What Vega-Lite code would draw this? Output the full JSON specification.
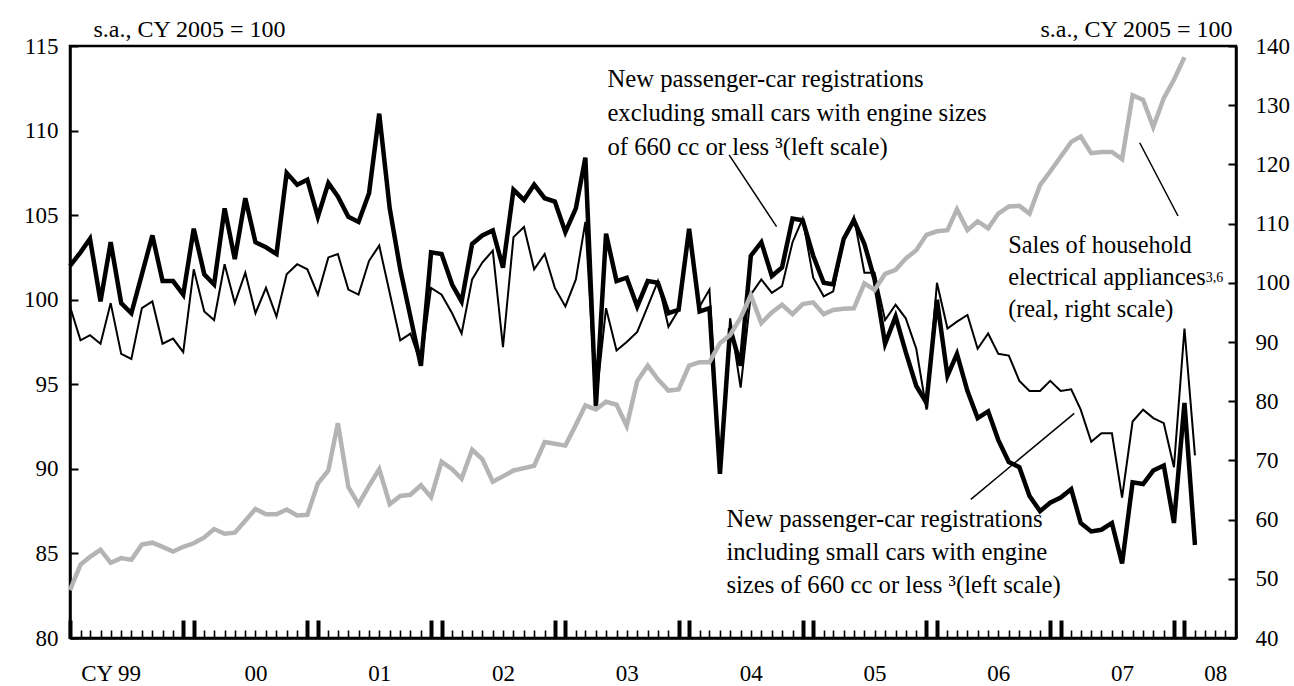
{
  "$schema": "https://vega.github.io/schema/vega-lite/v6.json",
  "width": 1166,
  "height": 592,
  "autosize": {"type": "none"},
  "padding": {"left": 70, "top": 46, "right": 58, "bottom": 48},
  "background": "white",
  "config": {
    "view": {"stroke": "black", "strokeWidth": 2.5},
    "font": "Liberation Serif",
    "axis": {"labelFont": "Liberation Serif", "titleFont": "Liberation Serif", "labelColor": "black", "titleColor": "black", "domainColor": "black", "tickColor": "black", "grid": false},
    "text": {"font": "Liberation Serif", "fontWeight": "normal", "fill": "black"}
  },
  "data": {
    "values": [
      {"date": "1999-01", "incl": 102.0, "excl": 99.6, "appl": 48.1},
      {"date": "1999-02", "incl": 102.8, "excl": 97.6, "appl": 52.4},
      {"date": "1999-03", "incl": 103.6, "excl": 97.9, "appl": 53.7},
      {"date": "1999-04", "incl": 99.9, "excl": 97.4, "appl": 54.9},
      {"date": "1999-05", "incl": 103.4, "excl": 99.8, "appl": 52.7},
      {"date": "1999-06", "incl": 99.8, "excl": 96.8, "appl": 53.5},
      {"date": "1999-07", "incl": 99.2, "excl": 96.5, "appl": 53.2},
      {"date": "1999-08", "incl": 101.5, "excl": 99.5, "appl": 55.8},
      {"date": "1999-09", "incl": 103.8, "excl": 99.9, "appl": 56.1},
      {"date": "1999-10", "incl": 101.1, "excl": 97.4, "appl": 55.4},
      {"date": "1999-11", "incl": 101.1, "excl": 97.7, "appl": 54.6},
      {"date": "1999-12", "incl": 100.3, "excl": 96.9, "appl": 55.4},
      {"date": "2000-01", "incl": 104.2, "excl": 101.8, "appl": 56.0},
      {"date": "2000-02", "incl": 101.5, "excl": 99.3, "appl": 57.0},
      {"date": "2000-03", "incl": 100.9, "excl": 98.8, "appl": 58.4},
      {"date": "2000-04", "incl": 105.4, "excl": 102.1, "appl": 57.6},
      {"date": "2000-05", "incl": 102.4, "excl": 99.8, "appl": 57.8},
      {"date": "2000-06", "incl": 106.0, "excl": 101.6, "appl": 59.8},
      {"date": "2000-07", "incl": 103.4, "excl": 99.2, "appl": 61.8},
      {"date": "2000-08", "incl": 103.1, "excl": 100.7, "appl": 60.9},
      {"date": "2000-09", "incl": 102.7, "excl": 99.0, "appl": 60.9},
      {"date": "2000-10", "incl": 107.5, "excl": 101.5, "appl": 61.7},
      {"date": "2000-11", "incl": 106.8, "excl": 102.1, "appl": 60.7},
      {"date": "2000-12", "incl": 107.1, "excl": 101.8, "appl": 60.8},
      {"date": "2001-01", "incl": 104.9, "excl": 100.3, "appl": 66.1},
      {"date": "2001-02", "incl": 106.9, "excl": 102.5, "appl": 68.3},
      {"date": "2001-03", "incl": 106.1, "excl": 102.7, "appl": 76.3},
      {"date": "2001-04", "incl": 104.9, "excl": 100.6, "appl": 65.5},
      {"date": "2001-05", "incl": 104.6, "excl": 100.3, "appl": 62.6},
      {"date": "2001-06", "incl": 106.3, "excl": 102.3, "appl": 65.7},
      {"date": "2001-07", "incl": 111.0, "excl": 103.2, "appl": 68.5},
      {"date": "2001-08", "incl": 105.4, "excl": 100.4, "appl": 62.6},
      {"date": "2001-09", "incl": 101.8, "excl": 97.6, "appl": 64.0},
      {"date": "2001-10", "incl": 99.0, "excl": 98.0, "appl": 64.2},
      {"date": "2001-11", "incl": 96.1, "excl": 96.2, "appl": 65.8},
      {"date": "2001-12", "incl": 102.8, "excl": 100.7, "appl": 63.8},
      {"date": "2002-01", "incl": 102.7, "excl": 100.3, "appl": 69.8},
      {"date": "2002-02", "incl": 100.9, "excl": 99.2, "appl": 68.5},
      {"date": "2002-03", "incl": 99.9, "excl": 98.0, "appl": 66.9},
      {"date": "2002-04", "incl": 103.3, "excl": 101.2, "appl": 71.8},
      {"date": "2002-05", "incl": 103.8, "excl": 102.2, "appl": 70.2},
      {"date": "2002-06", "incl": 104.1, "excl": 102.9, "appl": 66.4},
      {"date": "2002-07", "incl": 101.9, "excl": 97.2, "appl": 67.3},
      {"date": "2002-08", "incl": 106.5, "excl": 103.7, "appl": 68.3},
      {"date": "2002-09", "incl": 105.9, "excl": 104.3, "appl": 68.7},
      {"date": "2002-10", "incl": 106.8, "excl": 101.8, "appl": 69.1},
      {"date": "2002-11", "incl": 106.0, "excl": 102.7, "appl": 73.1},
      {"date": "2002-12", "incl": 105.8, "excl": 100.7, "appl": 72.8},
      {"date": "2003-01", "incl": 104.0, "excl": 99.6, "appl": 72.5},
      {"date": "2003-02", "incl": 105.4, "excl": 101.2, "appl": 76.0},
      {"date": "2003-03", "incl": 108.4, "excl": 104.6, "appl": 79.3},
      {"date": "2003-04", "incl": 93.7, "excl": 93.9, "appl": 78.6},
      {"date": "2003-05", "incl": 103.9, "excl": 99.5, "appl": 79.9},
      {"date": "2003-06", "incl": 101.1, "excl": 97.0, "appl": 79.4},
      {"date": "2003-07", "incl": 101.3, "excl": 97.5, "appl": 75.8},
      {"date": "2003-08", "incl": 99.6, "excl": 98.1, "appl": 83.4},
      {"date": "2003-09", "incl": 101.1, "excl": 99.6, "appl": 86.0},
      {"date": "2003-10", "incl": 101.0, "excl": 101.1, "appl": 83.7},
      {"date": "2003-11", "incl": 99.2, "excl": 98.4, "appl": 81.8},
      {"date": "2003-12", "incl": 99.4, "excl": 99.4, "appl": 82.0},
      {"date": "2004-01", "incl": 104.2, "excl": 103.9, "appl": 86.0},
      {"date": "2004-02", "incl": 99.3, "excl": 99.6, "appl": 86.6},
      {"date": "2004-03", "incl": 99.5, "excl": 100.6, "appl": 86.6},
      {"date": "2004-04", "incl": 89.7, "excl": 90.0, "appl": 89.8},
      {"date": "2004-05", "incl": 98.3, "excl": 98.9, "appl": 91.2},
      {"date": "2004-06", "incl": 96.1, "excl": 94.8, "appl": 94.1},
      {"date": "2004-07", "incl": 102.6, "excl": 100.3, "appl": 97.9},
      {"date": "2004-08", "incl": 103.4, "excl": 101.2, "appl": 93.2},
      {"date": "2004-09", "incl": 101.4, "excl": 100.4, "appl": 95.0},
      {"date": "2004-10", "incl": 101.9, "excl": 100.8, "appl": 96.3},
      {"date": "2004-11", "incl": 104.8, "excl": 103.4, "appl": 94.7},
      {"date": "2004-12", "incl": 104.7, "excl": 104.8, "appl": 96.4},
      {"date": "2005-01", "incl": 102.6, "excl": 101.3, "appl": 96.7},
      {"date": "2005-02", "incl": 101.0, "excl": 100.2, "appl": 94.7},
      {"date": "2005-03", "incl": 100.9, "excl": 100.5, "appl": 95.4},
      {"date": "2005-04", "incl": 103.6, "excl": 103.5, "appl": 95.6},
      {"date": "2005-05", "incl": 104.7, "excl": 104.9, "appl": 95.7},
      {"date": "2005-06", "incl": 103.3, "excl": 101.6, "appl": 99.9},
      {"date": "2005-07", "incl": 101.2, "excl": 101.6, "appl": 98.8},
      {"date": "2005-08", "incl": 97.4, "excl": 98.8, "appl": 101.5},
      {"date": "2005-09", "incl": 99.0, "excl": 99.7, "appl": 102.2},
      {"date": "2005-10", "incl": 96.9, "excl": 98.9, "appl": 104.1},
      {"date": "2005-11", "incl": 94.9, "excl": 97.1, "appl": 105.5},
      {"date": "2005-12", "incl": 93.9, "excl": 93.5, "appl": 108.1},
      {"date": "2006-01", "incl": 100.0, "excl": 101.0, "appl": 108.7},
      {"date": "2006-02", "incl": 95.5, "excl": 98.3, "appl": 108.9},
      {"date": "2006-03", "incl": 96.8, "excl": 98.7, "appl": 112.4},
      {"date": "2006-04", "incl": 94.6, "excl": 99.1, "appl": 108.9},
      {"date": "2006-05", "incl": 93.0, "excl": 97.1, "appl": 110.4},
      {"date": "2006-06", "incl": 93.4, "excl": 98.0, "appl": 109.2},
      {"date": "2006-07", "incl": 91.7, "excl": 96.8, "appl": 111.7},
      {"date": "2006-08", "incl": 90.4, "excl": 96.7, "appl": 112.9},
      {"date": "2006-09", "incl": 90.1, "excl": 95.2, "appl": 113.0},
      {"date": "2006-10", "incl": 88.4, "excl": 94.6, "appl": 111.7},
      {"date": "2006-11", "incl": 87.5, "excl": 94.6, "appl": 116.5},
      {"date": "2006-12", "incl": 88.0, "excl": 95.2, "appl": 118.8},
      {"date": "2007-01", "incl": 88.3, "excl": 94.6, "appl": 121.3},
      {"date": "2007-02", "incl": 88.8, "excl": 94.7, "appl": 123.8},
      {"date": "2007-03", "incl": 86.8, "excl": 93.5, "appl": 124.7},
      {"date": "2007-04", "incl": 86.3, "excl": 91.6, "appl": 121.9},
      {"date": "2007-05", "incl": 86.4, "excl": 92.1, "appl": 122.1},
      {"date": "2007-06", "incl": 86.8, "excl": 92.1, "appl": 122.1},
      {"date": "2007-07", "incl": 84.4, "excl": 88.3, "appl": 120.9},
      {"date": "2007-08", "incl": 89.2, "excl": 92.8, "appl": 131.7},
      {"date": "2007-09", "incl": 89.1, "excl": 93.5, "appl": 130.9},
      {"date": "2007-10", "incl": 89.9, "excl": 93.0, "appl": 126.3},
      {"date": "2007-11", "incl": 90.2, "excl": 92.7, "appl": 131.2},
      {"date": "2007-12", "incl": 86.8, "excl": 90.1, "appl": 134.3},
      {"date": "2008-01", "incl": 93.9, "excl": 98.3, "appl": 138.1},
      {"date": "2008-02", "incl": 85.5, "excl": 90.8, "appl": null}
    ],
    "format": {"parse": {"date": "date:'%Y-%m'"}}
  },
  "resolve": {"scale": {"y": "independent"}},
  "layer": [
    {
      "layer": [
        {
          "mark": {"type": "line", "color": "black", "strokeWidth": 2, "strokeJoin": "miter"},
          "encoding": {
            "x": {
              "field": "date", "type": "temporal",
              "scale": {"domain": [{"year": 1999, "month": 1, "date": 1}, {"year": 2008, "month": 6, "date": 1}], "nice": false},
              "axis": {
                "orient": "bottom", "title": null,
                "tickCount": {"interval": "month", "step": 1},
                "domainWidth": 2.5,
                "tickSize": {"condition": {"test": "month(datum.value) == 11 || month(datum.value) == 0", "value": -18}, "value": -8},
                "tickWidth": {"condition": {"test": "month(datum.value) == 11 || month(datum.value) == 0", "value": 4}, "value": 1.6},
                "labelExpr": "(year(datum.value) == 1999 && month(datum.value) == 4) ? 'CY 99' : ((year(datum.value) == 2008 && month(datum.value) == 3) ? '08' : ((year(datum.value) > 1999 && month(datum.value) == 6) ? timeFormat(datum.value, '%y') : ''))",
                "labelFontSize": 23, "labelPadding": 32, "labelOverlap": false, "labelFlush": false, "labelBound": false,
                "labelBaseline": "top"
              }
            },
            "y": {
              "field": "excl", "type": "quantitative",
              "scale": {"domain": [80, 115], "nice": false, "zero": false},
              "axis": {
                "orient": "left", "values": [80, 85, 90, 95, 100, 105, 110, 115],
                "domainWidth": 2.5, "tickSize": -8, "tickWidth": 2,
                "labelFontSize": 23, "labelPadding": 20,
                "title": "s.a., CY 2005 = 100", "titleAngle": 0, "titleX": 23, "titleY": -10,
                "titleAlign": "left", "titleBaseline": "alphabetic", "titleFontSize": 24, "titleFontWeight": "normal"
              }
            }
          }
        },
        {
          "mark": {"type": "line", "color": "black", "strokeWidth": 4.5, "strokeJoin": "miter"},
          "encoding": {
            "x": {"field": "date", "type": "temporal"},
            "y": {"field": "incl", "type": "quantitative", "scale": {"domain": [80, 115], "nice": false, "zero": false}}
          }
        },
        {
          "data": {"values": [{}]},
          "mark": {"type": "text", "align": "left", "baseline": "alphabetic", "fontSize": 24.7, "lineHeight": 34, "fill": "black", "fontWeight": "normal",
            "text": ["New passenger-car registrations", "excluding small cars with engine sizes", "of 660 cc or less \u00b3(left scale)"]},
          "encoding": {
            "x": {"datum": {"year": 2003, "month": 5, "date": 5}, "type": "temporal"},
            "y": {"datum": 112.58, "type": "quantitative", "scale": {"domain": [80, 115], "nice": false, "zero": false}}
          }
        },
        {
          "data": {"values": [{}]},
          "mark": {"type": "text", "align": "left", "baseline": "alphabetic", "fontSize": 24.7, "lineHeight": 33, "fill": "black", "fontWeight": "normal",
            "text": ["New passenger-car registrations", "including small cars with engine", "sizes of 660 cc or less \u00b3(left scale)"]},
          "encoding": {
            "x": {"datum": {"year": 2004, "month": 4, "date": 20}, "type": "temporal"},
            "y": {"datum": 86.56, "type": "quantitative", "scale": {"domain": [80, 115], "nice": false, "zero": false}}
          }
        },
        {
          "data": {"values": [{}]},
          "mark": {"type": "text", "align": "left", "baseline": "alphabetic", "fontSize": 24.3, "lineHeight": 32, "fill": "black", "fontWeight": "normal",
            "text": ["Sales of household", "electrical appliances", " (real, right scale)"]},
          "encoding": {
            "x": {"datum": {"year": 2006, "month": 7, "date": 30}, "type": "temporal"},
            "y": {"datum": 102.76, "type": "quantitative", "scale": {"domain": [80, 115], "nice": false, "zero": false}}
          }
        },
        {
          "data": {"values": [{}]},
          "mark": {"type": "text", "align": "left", "baseline": "alphabetic", "fontSize": 14, "fill": "black", "fontWeight": "normal", "text": "3,6"},
          "encoding": {
            "x": {"datum": {"year": 2008, "month": 3, "date": 4}, "type": "temporal"},
            "y": {"datum": 101.05, "type": "quantitative", "scale": {"domain": [80, 115], "nice": false, "zero": false}}
          }
        },
        {
          "data": {"values": [{}]},
          "mark": {"type": "rule", "color": "black", "strokeWidth": 1.5},
          "encoding": {
            "x": {"datum": {"year": 2004, "month": 4, "date": 28}, "type": "temporal"},
            "x2": {"datum": {"year": 2004, "month": 9, "date": 15}},
            "y": {"datum": 108.56, "type": "quantitative", "scale": {"domain": [80, 115], "nice": false, "zero": false}},
            "y2": {"datum": 104.32}
          }
        },
        {
          "data": {"values": [{}]},
          "mark": {"type": "rule", "color": "black", "strokeWidth": 1.5},
          "encoding": {
            "x": {"datum": {"year": 2006, "month": 4, "date": 11}, "type": "temporal"},
            "x2": {"datum": {"year": 2007, "month": 2, "date": 10}},
            "y": {"datum": 88.2, "type": "quantitative", "scale": {"domain": [80, 115], "nice": false, "zero": false}},
            "y2": {"datum": 93.28}
          }
        },
        {
          "data": {"values": [{}]},
          "mark": {"type": "rule", "color": "black", "strokeWidth": 1.5},
          "encoding": {
            "x": {"datum": {"year": 2007, "month": 8, "date": 22}, "type": "temporal"},
            "x2": {"datum": {"year": 2007, "month": 12, "date": 13}},
            "y": {"datum": 109.28, "type": "quantitative", "scale": {"domain": [80, 115], "nice": false, "zero": false}},
            "y2": {"datum": 104.95}
          }
        }
      ]
    },
    {
      "mark": {"type": "line", "color": "#b4b4b4", "strokeWidth": 4.5, "strokeJoin": "miter"},
      "encoding": {
        "x": {"field": "date", "type": "temporal"},
        "y": {
          "field": "appl", "type": "quantitative",
          "scale": {"domain": [40, 140], "nice": false, "zero": false},
          "axis": {
            "orient": "right", "values": [40, 50, 60, 70, 80, 90, 100, 110, 120, 130, 140],
            "domainWidth": 2.5, "tickSize": -8, "tickWidth": 2,
            "labelFontSize": 23, "labelPadding": 27,
            "title": "s.a., CY 2005 = 100", "titleAngle": 0, "titleX": -4, "titleY": -10,
            "titleAlign": "right", "titleBaseline": "alphabetic", "titleFontSize": 24, "titleFontWeight": "normal"
          }
        }
      }
    }
  ]
}
